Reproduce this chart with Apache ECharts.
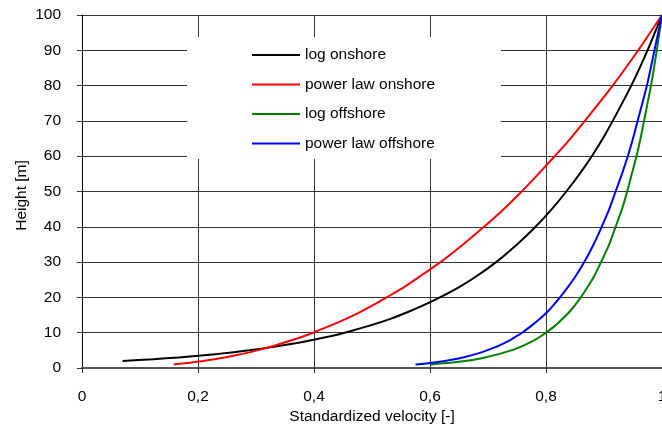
<!DOCTYPE html>
<html>
<head>
<meta charset="utf-8">
<script src="https://cdn.jsdelivr.net/npm/echarts@6/dist/echarts.min.js"></script>
<style>
  html, body { margin: 0; padding: 0; background: #fff; }
  #chart { width: 662px; height: 428px; }
</style>
</head>
<body>
<div id="chart"></div>
<script>
// Wind speed profiles: height above ground vs. velocity standardized to the 100 m value
var heightsLogOnshore = [2, 2.5, 3, 4, 5, 6, 7, 8, 9, 10, 12, 14, 16, 18, 20, 23, 26, 30, 35, 40, 45, 50, 55, 60, 65, 70, 80, 90, 100];
var velLogOnshore     = [0.070, 0.123, 0.166, 0.235, 0.288, 0.331, 0.368, 0.399, 0.428, 0.453, 0.496, 0.533, 0.564, 0.592, 0.617, 0.651, 0.680, 0.714, 0.750, 0.782, 0.810, 0.835, 0.858, 0.879, 0.898, 0.915, 0.947, 0.975, 1.000];

var heights = [1, 1.5, 2, 2.5, 3, 4, 5, 6, 7, 8, 9, 10, 12, 14, 16, 18, 20, 23, 26, 30, 35, 40, 45, 50, 55, 60, 65, 70, 80, 90, 100];
var velPowerOnshore  = [0.158, 0.186, 0.209, 0.229, 0.246, 0.276, 0.302, 0.325, 0.345, 0.364, 0.382, 0.398, 0.428, 0.456, 0.481, 0.504, 0.525, 0.556, 0.583, 0.618, 0.657, 0.693, 0.727, 0.758, 0.787, 0.815, 0.842, 0.867, 0.915, 0.959, 1.000];
var velLogOffshore   = [0.600, 0.635, 0.660, 0.680, 0.695, 0.720, 0.740, 0.756, 0.769, 0.781, 0.791, 0.800, 0.816, 0.829, 0.841, 0.851, 0.860, 0.872, 0.883, 0.895, 0.909, 0.920, 0.931, 0.940, 0.948, 0.956, 0.963, 0.969, 0.981, 0.991, 1.000];
var velPowerOffshore = [0.575, 0.604, 0.625, 0.642, 0.657, 0.680, 0.698, 0.714, 0.727, 0.739, 0.749, 0.759, 0.775, 0.790, 0.803, 0.814, 0.824, 0.838, 0.851, 0.866, 0.882, 0.896, 0.909, 0.920, 0.931, 0.941, 0.950, 0.958, 0.974, 0.987, 1.000];

var seriesNames = ['log onshore', 'power law onshore', 'log offshore', 'power law offshore'];
var seriesColors = ['#000000', '#ff0000', '#008000', '#0000ff'];

var xTickLabels = ['0', '0,2', '0,4', '0,6', '0,8', '1'];
var yTickLabels = ['0', '10', '20', '30', '40', '50', '60', '70', '80', '90', '100'];

function pairs(vel, hts) {
  return vel.map(function (v, i) { return [v, hts[i]]; });
}

var curves = [
  pairs(velLogOnshore, heightsLogOnshore),
  pairs(velPowerOnshore, heights),
  pairs(velLogOffshore, heights),
  pairs(velPowerOffshore, heights)
];

var FONT = '"Liberation Sans", Arial, sans-serif';
var chart = echarts.init(document.getElementById('chart'), null, { renderer: 'canvas' });

chart.setOption({
  animation: false,
  backgroundColor: '#ffffff',
  textStyle: { fontFamily: FONT },
  grid: { left: 82, right: 0, top: 15, bottom: 60, containLabel: false, outerBoundsMode: 'none' },
  xAxis: {
    type: 'value', min: 0, max: 1, interval: 0.2,
    name: 'Standardized velocity [-]',
    nameLocation: 'middle', nameGap: 41, nameMoveOverlap: false,
    nameTextStyle: { fontFamily: FONT, fontSize: 15.5, color: '#000' },
    axisLine: { show: true, lineStyle: { color: '#555', width: 2 } },
    axisTick: { show: true, length: 5, lineStyle: { color: '#333' } },
    axisLabel: {
      margin: 21, fontFamily: FONT, fontSize: 15.5, color: '#000',
      formatter: function (v) { return xTickLabels[Math.round(v / 0.2)]; }
    },
    splitLine: { show: true, lineStyle: { color: '#333', width: 1 } }
  },
  yAxis: {
    type: 'value', min: 0, max: 100, interval: 10,
    name: 'Height [m]',
    nameLocation: 'middle', nameGap: 52, nameMoveOverlap: false,
    nameTextStyle: { fontFamily: FONT, fontSize: 15.5, color: '#000', padding: [0, 8, 0, 0] },
    axisLine: { show: true, lineStyle: { color: '#000', width: 1 } },
    axisTick: { show: true, length: 5, lineStyle: { color: '#333' } },
    axisLabel: {
      margin: 21, fontFamily: FONT, fontSize: 15.5, color: '#000',
      formatter: function (v) { return yTickLabels[Math.round(v / 10)]; }
    },
    splitLine: { show: true, lineStyle: { color: '#333', width: 1 } }
  },
  graphic: [
    { type: 'rect', z: 50, shape: { x: 187, y: 37, width: 314, height: 122 }, style: { fill: '#ffffff' } }
  ],
  legend: {
    z: 60,
    orient: 'vertical',
    left: 252, top: 47,
    padding: 0,
    itemWidth: 48, itemHeight: 2, itemGap: 13.5,
    icon: 'rect',
    textStyle: { fontFamily: FONT, fontSize: 15.5, color: '#000' },
    data: seriesNames
  },
  series: curves.map(function (d, i) {
    return {
      name: seriesNames[i],
      type: 'line',
      data: d,
      showSymbol: false,
      symbol: 'none',
      smooth: 0.2,
      color: seriesColors[i],
      lineStyle: { color: seriesColors[i], width: 2 },
      z: 3
    };
  })
});
</script>
</body>
</html>
